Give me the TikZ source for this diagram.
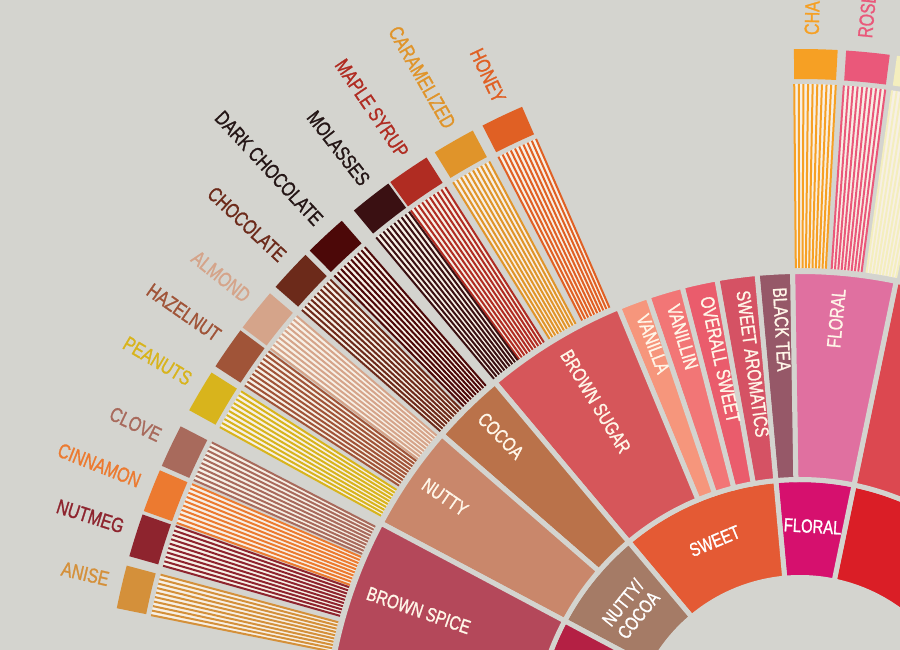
\documentclass[tikz,border=0pt]{standalone}
\usepackage{fontspec}
\setmainfont{Liberation Sans}[FakeStretch=0.78, FakeBold=1.2]
% background and stripe ground
\definecolor{wheelbg}{RGB}{212,212,207}
\definecolor{stripebg}{RGB}{247,240,230}
\definecolor{labelcream}{RGB}{255,246,232}
% inner ring
\definecolor{fruity}{RGB}{218,30,38}
\definecolor{floralhub}{RGB}{214,16,110}
\definecolor{sweethub}{RGB}{228,90,52}
\definecolor{nuttyhub}{RGB}{165,123,102}
\definecolor{spiceshub}{RGB}{180,32,68}
% middle ring
\definecolor{berry}{RGB}{220,72,80}
\definecolor{floralmid}{RGB}{224,112,160}
\definecolor{blacktea}{RGB}{150,88,104}
\definecolor{sweetarom}{RGB}{213,82,100}
\definecolor{overall}{RGB}{234,92,108}
\definecolor{vanillin}{RGB}{242,118,118}
\definecolor{vanilla}{RGB}{246,150,124}
\definecolor{brownsugar}{RGB}{214,86,90}
\definecolor{cocoa}{RGB}{186,114,74}
\definecolor{nutty}{RGB}{201,135,107}
\definecolor{brownspice}{RGB}{180,72,90}
% outer bars
\definecolor{honey}{RGB}{224,96,36}
\definecolor{caramel}{RGB}{224,148,42}
\definecolor{maple}{RGB}{176,44,34}
\definecolor{molasses}{RGB}{58,16,18}
\definecolor{darkchoc}{RGB}{76,8,8}
\definecolor{choc}{RGB}{108,42,26}
\definecolor{almond}{RGB}{213,164,138}
\definecolor{hazelnut}{RGB}{160,84,56}
\definecolor{peanut}{RGB}{216,180,28}
\definecolor{clove}{RGB}{168,106,92}
\definecolor{cinnamon}{RGB}{236,122,48}
\definecolor{nutmeg}{RGB}{142,36,46}
\definecolor{anise}{RGB}{212,144,58}
\definecolor{chamomile}{RGB}{246,160,36}
\definecolor{rose}{RGB}{234,88,122}
\definecolor{jasmine}{RGB}{244,238,190}
\definecolor{inkdark}{RGB}{36,22,22}

% ring segment: colour, start angle, end angle, inner radius, outer radius
\newcommand{\ringseg}[5]{%
  \filldraw[segment, fill=#1] (#2:#4pt) arc[start angle=#2, end angle=#3, radius=#4pt]
    -- (#3:#5pt) arc[start angle=#3, end angle=#2, radius=#5pt] -- cycle;}

\begin{document}
\begin{tikzpicture}[x=1pt, y=1pt,
  segment/.style={draw=wheelbg, line width=5pt, line join=miter},
  hublbl/.style={font=\fontsize{19}{20}\selectfont, text=white, align=center, inner sep=0pt},
  midlbl/.style={font=\fontsize{19.5}{21}\selectfont, text=labelcream, inner sep=0pt},
  barlbl/.style={font=\fontsize{20.5}{22}\selectfont, inner sep=0pt}]
\useasboundingbox (-800,96) rectangle (100,746);
\clip (-800,96) rectangle (100,746);
\fill[wheelbg] (-800,96) rectangle (100,746);

% inner ring
\foreach \sa/\sb/\col in {30/78.3/fruity, 78.3/95.2/floralhub, 95.2/130/sweethub,
    130/152/nuttyhub, 152/200/spiceshub}
  \ringseg{\col}{\sa}{\sb}{168.5}{266.5};
\node[hublbl, rotate=22.6] (sweet) at (112.6:222pt) {SWEET};
\node[hublbl, rotate=-3.3] (floral) at (86.7:220pt) {FLORAL};
\node[hublbl, rotate=51] (nuttycocoa) at (141:218pt) {NUTTY/\\COCOA};

% middle ring
\ringseg{berry}{40}{78.3}{266.5}{474.5}
\foreach \sa/\sb/\col/\txt/\nm in {78.3/90.9/floralmid/FLORAL/floralmid,
    90.9/95.2/blacktea/BLACK TEA/blacktea, 95.2/100.1/sweetarom/SWEET AROMATICS/sweetarom,
    100.1/104.4/overall/OVERALL SWEET/overall, 104.4/108.7/vanillin/VANILLIN/vanillin,
    108.7/112.5/vanilla/VANILLA/vanilla, 112.5/130/brownsugar/BROWN SUGAR/brownsugar,
    130/139/cocoa/COCOA/cocoa, 139/152/nutty/NUTTY/nutty,
    152/170/brownspice/BROWN SPICE/brownspice}{
  \ringseg{\col}{\sa}{\sb}{266.5}{474.5}
  \pgfmathsetmacro{\ma}{(\sa+\sb)/2}
  \ifdim\ma pt>90pt
    \pgfmathsetmacro{\rot}{\ma-180}
    \node[midlbl, anchor=mid west, rotate=\rot] (\nm) at (\ma:459pt) {\txt};
  \else
    \node[midlbl, anchor=mid east, rotate=\ma] (\nm) at (\ma:459pt) {\txt};
  \fi
}

% outer striped bars with caps
\foreach \ang/\col/\txt/\tcol/\nm in {115.3/honey/HONEY/honey/honey,
    119.8/caramel/CARAMELIZED/caramel/caramel, 124.2/maple/MAPLE SYRUP/maple/maple,
    128.0/molasses/MOLASSES/inkdark/molasses, 132.9/darkchoc/DARK CHOCOLATE/inkdark/darkchoc,
    137.0/choc/CHOCOLATE/choc/choc, 141.3/almond/ALMOND/almond/almond,
    145.2/hazelnut/HAZELNUT/hazelnut/hazelnut, 149.4/peanut/PEANUTS/peanut/peanut,
    154.5/clove/CLOVE/clove/clove, 158.5/cinnamon/CINNAMON/cinnamon/cinnamon,
    162.4/nutmeg/NUTMEG/nutmeg/nutmeg, 166.8/anise/ANISE/anise/anise,
    88.7/chamomile/CHAMOMILE/chamomile/chamomile, 84.4/rose/ROSE/rose/rose,
    80.2/jasmine/JASMINE/jasmine/jasmine}{
  \pgfmathsetmacro{\ba}{\ang-1.8}
  \pgfmathsetmacro{\bb}{\ang+1.8}
  \fill[stripebg] (\ba:478pt) arc[start angle=\ba, end angle=\bb, radius=478pt]
    -- (\bb:662pt) arc[start angle=\bb, end angle=\ba, radius=662pt] -- cycle;
  \foreach \k in {0,...,9}{
    \pgfmathsetmacro{\sl}{\ba+\k*0.4}
    \draw[\col, line width=2pt] (\sl:478pt) -- (\sl:662pt);
  }
  \fill[\col] (\ba:667pt) arc[start angle=\ba, end angle=\bb, radius=667pt]
    -- (\bb:697pt) arc[start angle=\bb, end angle=\ba, radius=697pt] -- cycle;
  \ifdim\ang pt>90pt
    \pgfmathsetmacro{\rot}{\ang-180}
    \node[barlbl, text=\tcol, anchor=mid east, rotate=\rot] (\nm) at (\ang:711pt) {\txt};
  \else
    \node[barlbl, text=\tcol, anchor=mid west, rotate=\ang] (\nm) at (\ang:711pt) {\txt};
  \fi
}
\end{tikzpicture}
\end{document}
